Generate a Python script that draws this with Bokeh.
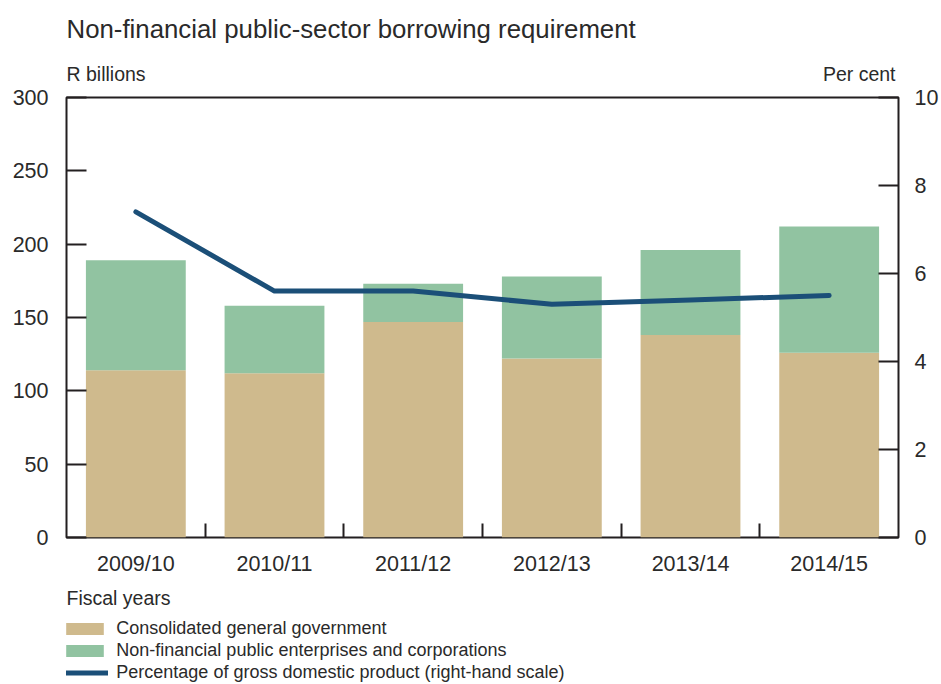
from bokeh.plotting import figure
from bokeh.layouts import column
from bokeh.models import (Range1d, LinearAxis, FixedTicker,
                          Label, Legend, LegendItem, ColumnDataSource, Grid)
from bokeh.embed import file_html
from bokeh.resources import INLINE

# ---- data ----
years = ["2009/10", "2010/11", "2011/12", "2012/13", "2013/14", "2014/15"]
general_government = [114, 112, 147, 122, 138, 126]
public_enterprises = [75, 46, 26, 56, 58, 86]
pct_gdp = [7.4, 5.6, 5.6, 5.3, 5.4, 5.5]
left_ticks = [0, 50, 100, 150, 200, 250, 300]
right_ticks = [0, 2, 4, 6, 8, 10]

TAN = "#CFBA8D"
GREEN = "#91C3A1"
BLUE = "#1B4F78"
INK = "#231F20"
TXT = "#2a2a2a"
FONT = "Liberation Sans"
W = 941

# category slots on a numeric scale: slot i spans [i, i+1], centre at i + 0.5
pos = [i + 0.5 for i in range(len(years))]
edges = list(range(1, len(years)))

source = ColumnDataSource(dict(x=pos, gg=general_government,
                               pe=public_enterprises, pct=pct_gdp))


def blank(height):
    f = figure(width=W, height=height, x_range=Range1d(0, 1), y_range=Range1d(0, 1),
               x_axis_location=None, y_axis_location=None, title=None,
               output_backend="svg", toolbar_location=None, min_border=0)
    f.center = [c for c in f.center if not isinstance(c, Grid)]
    f.outline_line_color = None
    return f


def lab(f, text, x, y, size, align="left"):
    f.add_layout(Label(x=x, y=y, x_units="screen", y_units="screen", text=text,
                       text_font=FONT, text_font_size=size, text_color=TXT,
                       text_align=align, text_baseline="middle"))


# ---- header (frame is aligned with the chart frame: x=0 is the chart's left edge) ----
HEAD = 85
top = blank(HEAD)
lab(top, "Non-financial public-sector borrowing requirement", 0, HEAD - 28, "25.8px")
lab(top, "R billions", 0, HEAD - 73, "19.5px")
lab(top, "Per cent", 829, HEAD - 73, "19.5px", align="right")

# ---- main chart ----
MAIN = 495
p = figure(width=W, height=MAIN,
           x_range=Range1d(0, len(years)),
           y_range=Range1d(0, 300), title=None,
           x_axis_location=None, y_axis_location=None,
           output_backend="svg", toolbar_location=None,
           min_border_left=66, min_border_right=40,
           min_border_top=97 - HEAD, min_border_bottom=MAIN - (97 - HEAD) - 440)
p.center = [c for c in p.center if not isinstance(c, Grid)]
p.extra_y_ranges = {"pct": Range1d(0, 10)}
p.outline_line_color = INK
p.outline_line_width = 2

bars = p.vbar_stack(["gg", "pe"], x="x", width=0.72, color=[TAN, GREEN],
                    line_color=None, source=source)
line = p.line(x="x", y="pct", y_range_name="pct", source=source,
              line_width=5, line_color=BLUE, line_cap="round", line_join="round")


def style(ax, size="21.5px"):
    ax.major_label_text_font = FONT
    ax.major_label_text_font_size = size
    ax.major_label_text_color = TXT
    ax.major_tick_line_color = INK
    ax.major_tick_line_width = 2
    ax.minor_tick_line_color = None
    ax.axis_line_color = None


left = LinearAxis(ticker=FixedTicker(ticks=left_ticks), major_tick_in=20, major_tick_out=0,
                  major_label_standoff=18)
style(left)
p.add_layout(left, "left")

right = LinearAxis(y_range_name="pct", ticker=FixedTicker(ticks=right_ticks),
                   major_tick_in=20, major_tick_out=0, major_label_standoff=16)
style(right)
p.add_layout(right, "right")

edge_axis = LinearAxis(ticker=FixedTicker(ticks=edges),
                       major_tick_in=14, major_tick_out=0, major_label_standoff=0)
style(edge_axis, "0px")
edge_axis.major_label_text_alpha = 0
p.add_layout(edge_axis, "below")

cat_axis = LinearAxis(ticker=FixedTicker(ticks=pos), major_tick_in=0, major_tick_out=0,
                      major_label_standoff=14,
                      major_label_overrides={x: y for x, y in zip(pos, years)})
style(cat_axis)
cat_axis.major_tick_line_color = None
p.add_layout(cat_axis, "below")

# ---- footer: axis title and legend ----
FOOT = 684 - HEAD - MAIN
bot = blank(FOOT)
lab(bot, "Fiscal years", 0, FOOT - (597 - HEAD - MAIN), "19.5px")
# legend keys: same data and styles as the chart's series, hidden in this panel
k_gg = bot.vbar(x="x", top="gg", width=0.72, color=TAN, line_color=None, source=source)
k_pe = bot.vbar(x="x", top="pe", width=0.72, color=GREEN, line_color=None, source=source)
k_ln = bot.line(x="x", y="pct", line_width=5, line_color=BLUE, source=source)
for r in (k_gg, k_pe, k_ln):
    r.visible = False
legend = Legend(items=[
    LegendItem(label="Consolidated general government", renderers=[k_gg]),
    LegendItem(label="Non-financial public enterprises and corporations", renderers=[k_pe]),
    LegendItem(label="Percentage of gross domestic product (right-hand scale)", renderers=[k_ln]),
], location=(-4.7, 1), orientation="vertical",
    glyph_width=47, glyph_height=15, label_height=22, label_standoff=8,
    spacing=0, padding=0, margin=0, border_line_color=None, background_fill_alpha=0,
    inactive_fill_alpha=0,
    label_text_font=FONT, label_text_font_size="18px", label_text_color=TXT)
bot.add_layout(legend, "center")

layout = column(top, p, bot, spacing=0)
open("out.html", "w").write(file_html(layout, INLINE))
